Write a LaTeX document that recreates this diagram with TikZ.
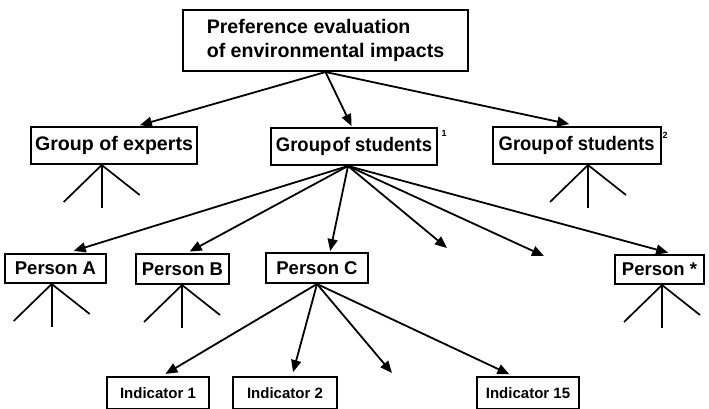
\documentclass[tikz,border=0pt]{standalone}
\usepackage{fontspec}
\setmainfont{Liberation Sans}
\usetikzlibrary{arrows.meta}
\begin{document}
\begin{tikzpicture}[x=1pt,y=-1pt,
  box/.style={draw, line width=2pt, inner sep=0pt},
  bigtext/.style={font=\bfseries\fontsize{19.6}{23.5}\selectfont},
  perstext/.style={font=\bfseries\fontsize{18.5}{22}\selectfont},
  indtext/.style={font=\bfseries\fontsize{15}{18}\selectfont},
  suptext/.style={font=\bfseries\fontsize{9}{10}\selectfont, inner sep=0pt},
  arr/.style={line width=1.8pt, -{Triangle[length=12pt,width=10pt]}},
  tripod/.pic={\draw[line width=1.7pt] (-38,37) -- (0,0) -- (38,30); \draw[line width=1.7pt] (0,0) -- (0,43);}
]
\useasboundingbox (0,0) rectangle (709,408);
\clip (0,0) rectangle (709,408);
\fill[white] (0,0) rectangle (709,408);

% top
\node[box, bigtext, minimum width=285pt, minimum height=61pt, align=left] (top) at (325.5,40.5)
  {Preference evaluation\\of environmental impacts};

% groups
\node[box, bigtext, minimum width=166pt, minimum height=37pt] (ge) at (114,145.5) {Group of experts};
\node[box, bigtext, minimum width=166pt, minimum height=37pt] (gs1) at (354,146.5)
  {\scalebox{0.94}[1]{Group\hspace{0.08em}of students}};
\node[box, bigtext, minimum width=168pt, minimum height=37pt] (gs2) at (576.7,145.5)
  {\scalebox{0.94}[1]{Group\hspace{0.08em}of students}};
\node[suptext] (s1) at (444,133) {1};
\node[suptext] (s2) at (665,135) {2};

% persons
\node[box, perstext, minimum width=101pt, minimum height=29pt] (pa) at (55.5,268.5) {Person A};
\node[box, perstext, minimum width=93pt, minimum height=30pt] (pb) at (182.5,269) {Person B};
\node[box, perstext, minimum width=102pt, minimum height=30pt] (pc) at (317,268) {Person C};
\node[box, perstext, minimum width=89pt, minimum height=29pt] (ps) at (659.5,269.5) {Person *};

% indicators
\node[box, indtext, minimum width=102pt, minimum height=32pt] (i1) at (158,393) {Indicator 1};
\node[box, indtext, minimum width=104pt, minimum height=32pt] (i2) at (285,393) {Indicator 2};
\node[box, indtext, minimum width=102pt, minimum height=32pt] (i15) at (528,393) {Indicator 15};

% free ends and origins
\coordinate (gso) at (gs1.south -| 348,0);
\coordinate (d1) at (447,248);
\coordinate (d2) at (544,256);
\coordinate (d3) at (392,373);

% arrows from top
\draw[arr, shorten >=3pt] (top.south) -- (ge.north -| 137,0);
\draw[arr, shorten >=1pt] (top.south) -- (gs1.north -| 352,0);
\draw[arr, shorten >=9pt] (top.south) -- (gs2.north -| 578,0);

% arrows from group of students 1
\draw[arr, shorten >=7pt] (gso) -- (pa.north -| 67,0);
\draw[arr, shorten >=3pt] (gso) -- (pb.north -| 187,0);
\draw[arr, shorten >=1pt] (gso) -- (pc.north -| 330,0);
\draw[arr] (gso) -- (d1);
\draw[arr] (gso) -- (d2);
\draw[arr, shorten >=5pt] (gso) -- (ps.north -| 673,0);

% arrows from person C
\draw[arr, shorten >=4pt] (pc.south) -- (i1.north -| 162,0);
\draw[arr, shorten >=4pt] (pc.south) -- (i2.north -| 292,0);
\draw[arr] (pc.south) -- (d3);
\draw[arr, shorten >=4pt] (pc.south) -- (i15.north -| 513,0);

% tripods
\pic at (ge.south -| 101.7,0) {tripod};
\pic at (gs2.south -| 588,0) {tripod};
\pic at (pa.south -| 51.7,0) {tripod};
\pic at (pb.south -| 182,0) {tripod};
\pic at (ps.south -| 662,0) {tripod};
\end{tikzpicture}
\end{document}
